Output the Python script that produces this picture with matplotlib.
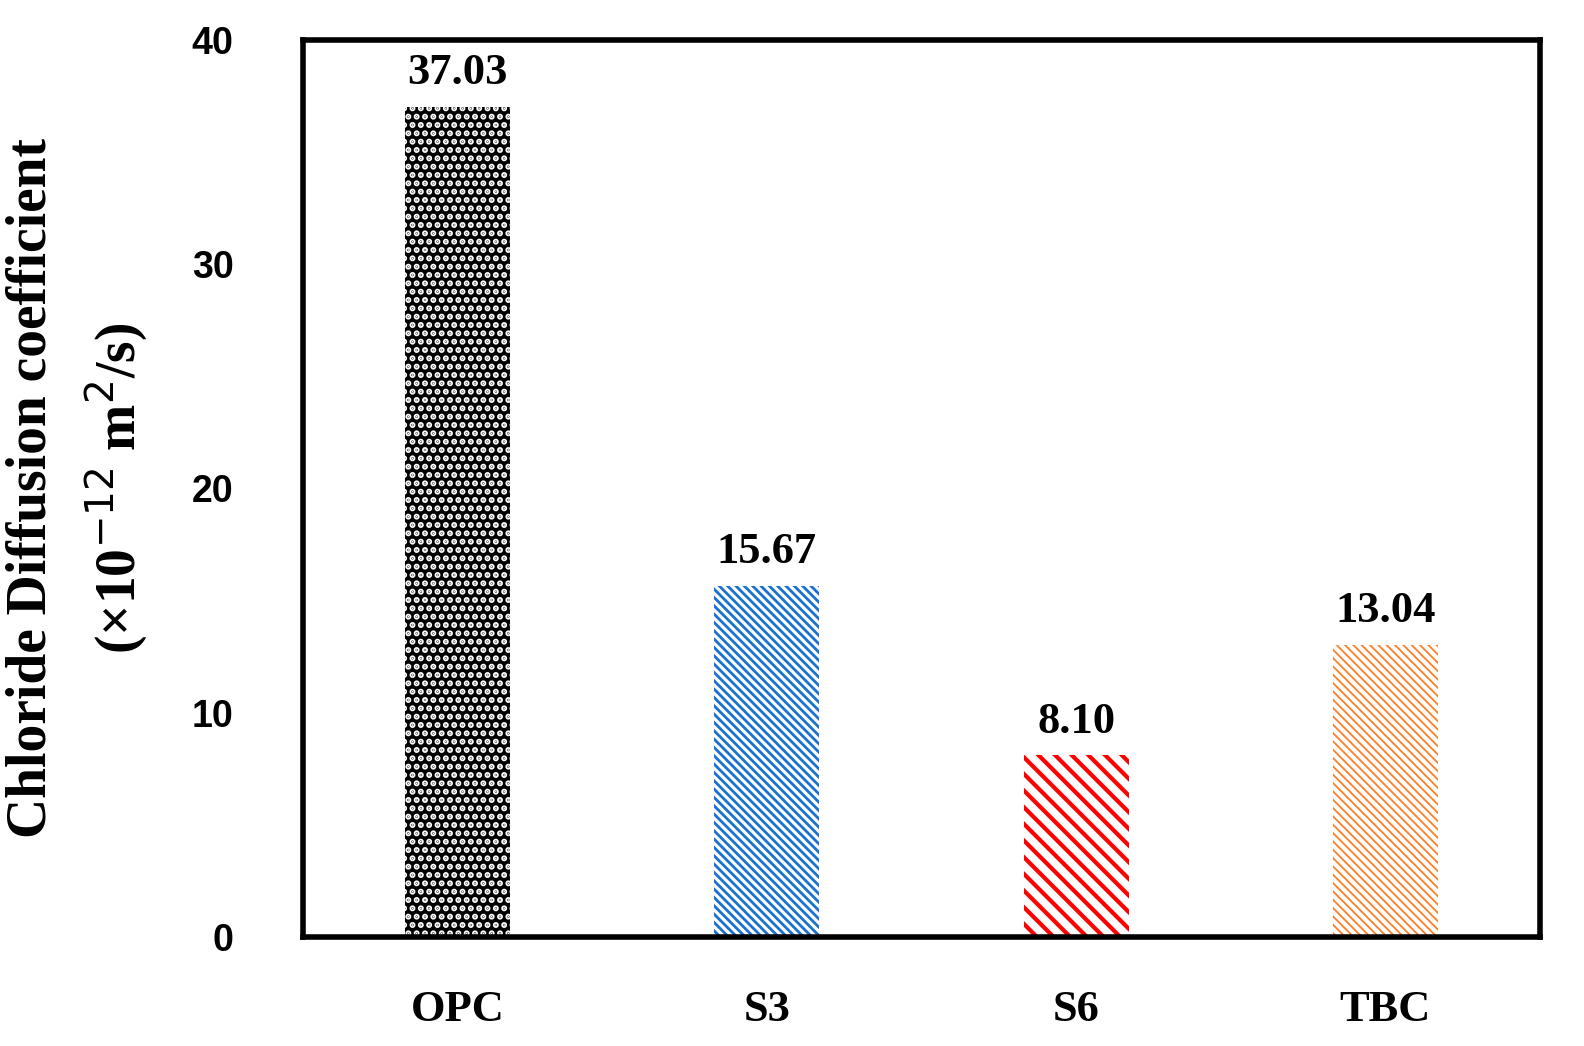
import matplotlib.pyplot as plt

groups = ['OPC', 'S3', 'S6', 'TBC']
values = [37.03, 15.67, 8.10, 13.04]
labels = ['37.03', '15.67', '8.10', '13.04']

fig = plt.figure(figsize=(15.84, 10.46), dpi=100)
ax = fig.add_axes([303/1584, 1-937/1046, 1237/1584, 897/1046])

# facecolor, hatch colour, hatch, hatch line width
styles = [('black', 'white', '..', 3.0), ('white', '#1a72d0', '\\\\\\\\', 2.0),
          ('white', '#ff0000', '\\\\', 3.0), ('white', '#ff7f27', '\\\\\\\\', 1.3)]
x = range(len(groups))
for i in x:
    fc, ec, h, lw = styles[i]
    with plt.rc_context({'hatch.linewidth': lw}):
        ax.bar(i, values[i], width=0.34, color=fc, edgecolor=ec, hatch=h, linewidth=0)
    ax.text(i, values[i] + 0.6, labels[i], ha='center', va='bottom',
            fontsize=32, fontweight='bold', family='Liberation Serif')

ax.set_xlim(-0.5, 3.5)
ax.set_ylim(0, 40)
ax.set_xticks(list(x))
ax.set_xticklabels(groups, fontsize=32, fontweight='bold', family='Liberation Serif')
ax.set_yticks([0, 10, 20, 30, 40])
ax.set_yticklabels(['0', '10', '20', '30', '40'], fontsize=27, fontweight='bold', family='Liberation Sans')
ax.tick_params(length=0, pad=50)
ax.tick_params(axis='x', pad=38)
for s in ax.spines.values():
    s.set_linewidth(4)
ax.set_ylabel('Chloride Diffusion coefficient\n(×10$^{-12}$ m$^2$/s)', fontsize=40,
              fontweight='bold', family='Liberation Serif', labelpad=30, linespacing=1.5)
fig.savefig('out.png', dpi=100)
